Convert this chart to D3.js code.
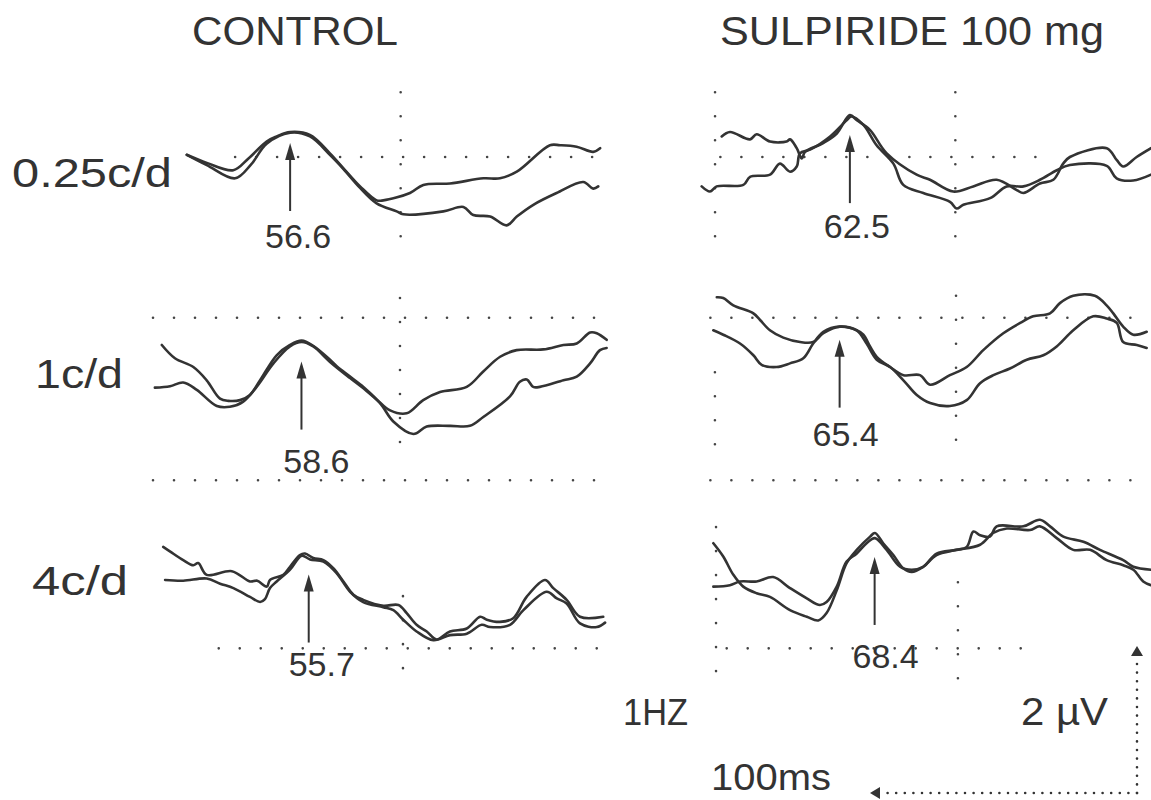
<!DOCTYPE html>
<html>
<head>
<meta charset="utf-8">
<script src="https://cdn.jsdelivr.net/npm/d3@7"></script>
<style>
  body { margin: 0; background: #fff; }
  svg { display: block; font-family: 'Liberation Sans', Arial, sans-serif; }
</style>
</head>
<body>
<svg id="chart" width="1151" height="800"></svg>
<script>
// columns / rows of the figure
const columns = ['CONTROL', 'SULPIRIDE 100 mg']
const rowLabels = ['0.25c/d', '1c/d', '4c/d']
// P100 latency (ms) per row, per column
const latencies = [[56.6, 62.5], [58.6, 65.4], [55.7, 68.4]]

// traces: [time ms, amplitude uV]
const control025A = [[17.9,0.03],[25.4,-0.08],[35.3,-0.18],[41,-0.02],[47.8,0.21],[51.6,0.28],[56.6,0.34],[64,0.30],[71.5,0.05],[76.5,-0.15],[82.8,-0.40],[89,-0.59],[91.5,-0.59],[101.5,-0.49],[106.5,-0.38],[116.5,-0.36],[129,-0.29],[135.2,-0.29],[141.5,-0.20],[153.9,0.16],[157.7,0.16],[163.9,0.14],[170.1,0.07],[172.7,0.12]]
const control025B = [[17.9,0.03],[25.4,-0.11],[36,-0.29],[42,-0.10],[47.8,0.18],[56.6,0.33],[64,0.28],[71.5,0.03],[76.5,-0.16],[82.8,-0.42],[89,-0.63],[96.5,-0.74],[99,-0.78],[114,-0.74],[121.5,-0.68],[125.2,-0.79],[131.5,-0.81],[137.7,-0.93],[141.5,-0.81],[147.7,-0.65],[156.4,-0.49],[166.4,-0.34],[170.1,-0.43],[172,-0.40]]
const sulp025A = [[14.5,0.28],[17.6,0.34],[25.1,0.24],[27.6,0.31],[32.6,0.21],[38.8,0.21],[40.1,0.24],[42.6,0.12],[44.5,-0.02],[45.7,0.07],[52.5,0.19],[57.6,0.32],[62.5,0.57],[65.1,0.50],[70.0,0.37],[76.3,0.05],[87.5,-0.24],[92.5,-0.31],[101.2,-0.47],[108.7,-0.40],[117.5,-0.31],[125.0,-0.45],[127.5,-0.49],[133.7,-0.36],[138.7,-0.31],[142.4,-0.09],[144.9,0.00],[158.7,0.12],[162.4,-0.04],[164.9,-0.13],[169.9,0.00],[175.3,0.12]]
const sulp025B = [[7.0,-0.40],[10.1,-0.47],[12.6,-0.40],[22.6,-0.38],[25.1,-0.27],[32.6,-0.24],[36.3,-0.09],[40.1,-0.20],[42.6,-0.13],[43.8,0.05],[47.6,0.10],[55.1,0.28],[61.3,0.50],[63.0,0.55],[67.5,0.44],[72.5,0.16],[78.8,-0.09],[82.5,-0.38],[90.0,-0.49],[100.0,-0.61],[102.5,-0.70],[105.0,-0.65],[115.0,-0.56],[121.2,-0.40],[127.5,-0.40],[133.7,-0.31],[140.0,-0.18],[144.9,-0.11],[158.7,-0.12],[162.4,-0.29],[168.6,-0.32],[175.3,-0.24]]
const control1A = [[6.3,0],[11.2,-0.18],[18.1,-0.30],[23.1,-0.48],[28.1,-0.73],[31.2,-0.76],[35.6,-0.75],[39.3,-0.68],[43.1,-0.48],[49.3,-0.14],[54.3,0.00],[58.7,0.06],[63.0,-0.01],[69.3,-0.20],[71.8,-0.29],[76.8,-0.43],[81.8,-0.57],[86.8,-0.74],[91.8,-0.89],[98.0,-0.93],[104.2,-0.75],[110.5,-0.64],[120.5,-0.57],[126.7,-0.36],[133.0,-0.16],[139.2,-0.07],[149.2,-0.06],[156.7,0.00],[161.7,0.02],[166.7,0.17],[169.2,0.16],[172.9,0.07]]
const control1B = [[3.7,-0.58],[9.4,-0.56],[14.3,-0.51],[19.4,-0.61],[26.9,-0.83],[31.8,-0.84],[36.8,-0.77],[41.8,-0.57],[48.1,-0.25],[54.3,-0.02],[58.7,0.04],[63.0,-0.02],[69.3,-0.23],[76.8,-0.45],[81.8,-0.59],[88.0,-0.79],[93.0,-1.04],[100.5,-1.21],[105.5,-1.11],[114.2,-1.10],[121.7,-1.10],[126.7,-0.98],[136.7,-0.70],[140.4,-0.50],[143.0,-0.47],[145.4,-0.57],[147.9,-0.57],[156.7,-0.48],[161.7,-0.43],[166.7,-0.25],[170.4,-0.07],[172.9,-0.04]]
const sulp1A = [[19.4,0.65],[21.8,0.64],[25.6,0.54],[33.1,0.43],[35.6,0.34],[39.3,0.20],[44.3,0.10],[50.6,0.04],[55.5,0.04],[59.3,0.16],[65.5,0.25],[71.8,0.20],[74.3,0.14],[76.8,-0.02],[79.3,-0.16],[84.3,-0.30],[89.3,-0.41],[95.5,-0.41],[99.3,-0.54],[106.7,-0.41],[113.0,-0.30],[119.2,-0.07],[126.7,0.16],[133.0,0.30],[137.9,0.39],[144.2,0.43],[147.9,0.57],[152.9,0.67],[161.0,0.67],[165.4,0.54],[167.9,0.43],[171.6,0.25],[175.4,0.14],[180.4,0.18]]
const sulp1B = [[18.1,0.20],[21.8,0.14],[28.1,0.02],[33.1,-0.14],[36.2,-0.27],[41.8,-0.30],[46.8,-0.25],[51.8,-0.18],[55.5,0.02],[59.3,0.18],[65.5,0.25],[71.8,0.20],[75.5,0.02],[79.3,-0.20],[84.3,-0.30],[89.3,-0.48],[94.3,-0.68],[99.3,-0.79],[106.7,-0.83],[113.0,-0.75],[118.0,-0.52],[123.0,-0.41],[129.2,-0.32],[135.5,-0.20],[141.7,-0.14],[146.7,-0.02],[152.9,0.20],[160.4,0.39],[165.4,0.36],[169.2,0.30],[171.6,0.04],[176.7,0.00],[180.4,-0.04]]
const control4A = [[1.2,0.45],[3.7,0.39],[8.7,0.27],[12.5,0.20],[14.3,0.23],[17.5,0.07],[26.9,0.12],[33.7,-0.02],[36.4,-0.01],[40.0,-0.09],[41.2,0.00],[46.2,0.07],[48.7,0.18],[52.4,0.34],[54.3,0.36],[57.4,0.30],[61.2,0.27],[64.9,0.16],[68.7,-0.02],[72.4,-0.20],[76.1,-0.27],[83.6,-0.35],[89.3,-0.34],[92.4,-0.45],[96.1,-0.61],[99.9,-0.70],[103.6,-0.81],[108.6,-0.70],[114.9,-0.66],[119.9,-0.50],[122.4,-0.54],[127.3,-0.57],[132.3,-0.52],[137.3,-0.23],[144.2,0.00],[147.3,-0.11],[152.3,-0.27],[157.3,-0.50],[166.0,-0.50]]
const control4B = [[1.9,0.00],[8.7,-0.01],[17.5,0.02],[22.5,-0.05],[27.5,-0.11],[33.7,-0.23],[37.5,-0.30],[39.3,-0.26],[41.2,-0.11],[43.7,-0.02],[48.7,0.14],[53.1,0.33],[56.2,0.28],[61.2,0.25],[66.2,0.09],[71.2,-0.16],[76.1,-0.30],[83.6,-0.37],[87.4,-0.41],[91.1,-0.54],[96.1,-0.70],[102.4,-0.82],[108.6,-0.75],[114.9,-0.73],[120.5,-0.61],[123.6,-0.64],[131.1,-0.61],[136.1,-0.41],[144.8,-0.16],[148.6,-0.25],[152.3,-0.32],[157.3,-0.59],[163.6,-0.64],[166.7,-0.58]]
const sulp4A = [[8.0,0.50],[11.7,0.32],[15.5,0.07],[19.2,-0.09],[24.2,-0.18],[29.2,-0.23],[36.7,-0.41],[43.0,-0.50],[47.3,-0.55],[50.4,-0.45],[54.2,-0.14],[57.9,0.23],[61.7,0.41],[66.7,0.59],[68.5,0.64],[71.6,0.50],[75.4,0.34],[79.1,0.16],[82.3,0.11],[86.6,0.18],[91.6,0.34],[99.1,0.41],[102.9,0.45],[105.4,0.66],[107.9,0.61],[111.6,0.59],[114.1,0.73],[124.1,0.73],[130.3,0.82],[134.1,0.73],[139.1,0.59],[146.6,0.52],[152.8,0.41],[161.5,0.27],[165.3,0.18],[171.9,0.14]]
const sulp4B = [[8.0,-0.09],[14.2,-0.07],[18.0,-0.02],[24.2,-0.02],[30.4,0.04],[36.7,-0.11],[43.0,-0.25],[47.9,-0.34],[50.4,-0.30],[54.2,-0.09],[57.9,0.25],[61.7,0.36],[65.4,0.50],[68.5,0.57],[72.9,0.41],[77.9,0.18],[82.3,0.14],[86.6,0.18],[91.6,0.36],[99.1,0.41],[107.9,0.48],[112.8,0.64],[117.9,0.70],[126.6,0.68],[130.3,0.73],[136.6,0.57],[142.8,0.41],[149.1,0.41],[155.3,0.27],[161.5,0.20],[165.3,0.14],[169.0,-0.02],[171.9,-0.07]]

const traces = [
    [[control025A, control025B], [sulp025A, sulp025B]],
    [[control1A, control1B], [sulp1A, sulp1B]],
    [[control4A, control4B], [sulp4A, sulp4B]]
]

// dotted reference lines of the printout
// horizontal: [uV, from ms, to ms]   vertical: [ms, from uV, to uV]
const gridH = [
    [[[0, 36, 176]], [[0, 14, 134]]],
    [[[0.37, 3, 170], [-1.84, 3, 170]], [[0.37, 17, 182], [-1.84, 17, 182]]],
    [[[-0.93, 22, 170]], [[-0.93, 13, 130]]]
]
const gridV = [
    [[[98, 0.88, -1.21]], [[102, 0.88, -1.21], [12, 0.88, -1.21]]],
    [[[95.5, 0.64, -1.43]], [[109, 0.67, -1.43], [18.7, -0.37, -1.43]]],
    [[[91, -0.22, -1.44]], [[99.6, -0.03, -1.44], [9, 0.72, -1.41]]]
]

// calibration
const calMs = 100
const calUv = 2

// ---- layout
const pxPer100ms = 267
const pxPer2uV = 147
const panelX = [[139, 683], [145, 665], [160, 692]]
const rowBase = [157, 345, 580]
const arrowGap = [[11, 20], [21, 13], [21, 24]]
const labelDx = [[8, 7], [15, 6], [13, 11]]
const labelDy = [[37, 35], [43, 38], [33, 43]]

const ink = '#333'
const svg = d3.select('#chart')
svg.append('rect').attr('width', 1151).attr('height', 800).attr('fill', '#fff')

const fmt = d3.format('.1f')

rowLabels.forEach(function (label, r) {
    columns.forEach(function (_, c) {
        const x = d3.scaleLinear().domain([0, 100]).range([panelX[r][c], panelX[r][c] + pxPer100ms])
        const y = d3.scaleLinear().domain([0, 2]).range([rowBase[r], rowBase[r] - pxPer2uV])
        const g = svg.append('g').attr('class', 'panel')

        // dotted grid
        gridH[r][c].forEach(function (d) {
            g.append('line')
                .attr('x1', x(d[1])).attr('x2', x(d[2]))
                .attr('y1', y(d[0])).attr('y2', y(d[0]))
                .attr('stroke', '#444').attr('stroke-width', 2.6)
                .attr('stroke-linecap', 'round').attr('stroke-dasharray', '0 21')
        })
        gridV[r][c].forEach(function (d) {
            g.append('line')
                .attr('x1', x(d[0])).attr('x2', x(d[0]))
                .attr('y1', y(d[1])).attr('y2', y(d[2]))
                .attr('stroke', '#444').attr('stroke-width', 2.6)
                .attr('stroke-linecap', 'round').attr('stroke-dasharray', '0 24')
        })

        // two superimposed traces
        const line = d3.line()
            .x(d => x(d[0]))
            .y(d => y(d[1]))
            .curve(d3.curveCatmullRom.alpha(0.5))
        g.selectAll('path.trace')
            .data(traces[r][c])
            .join('path')
            .attr('class', 'trace')
            .attr('d', line)
            .attr('fill', 'none')
            .attr('stroke', '#333')
            .attr('stroke-width', 2.6)
            .attr('stroke-linejoin', 'round')
            .attr('stroke-linecap', 'round')

        // latency arrow
        const lat = latencies[r][c]
        const near = d3.merge(traces[r][c]).filter(d => Math.abs(d[0] - lat) <= 4)
        const tip = y(d3.max(near, d => d[1])) + arrowGap[r][c]
        const ax = x(lat)
        g.append('line')
            .attr('x1', ax).attr('x2', ax)
            .attr('y1', tip + 12).attr('y2', tip + 68)
            .attr('stroke', ink).attr('stroke-width', 2)
        g.append('path')
            .attr('d', `M${ax},${tip} L${ax - 5},${tip + 17} L${ax + 5},${tip + 17} Z`)
            .attr('fill', ink)
        g.append('text')
            .attr('x', ax + labelDx[r][c])
            .attr('y', tip + 68 + labelDy[r][c])
            .attr('text-anchor', 'middle')
            .attr('font-size', 34)
            .attr('fill', ink)
            .text(fmt(lat))
    })
})

// titles and row labels
const titlePos = [[192, 45, 206], [720, 45, 384]]
svg.selectAll('text.col')
    .data(columns)
    .join('text')
    .attr('class', 'col')
    .attr('x', (d, i) => titlePos[i][0])
    .attr('y', (d, i) => titlePos[i][1])
    .attr('textLength', (d, i) => titlePos[i][2])
    .attr('lengthAdjust', 'spacingAndGlyphs')
    .attr('font-size', 41)
    .attr('fill', ink)
    .text(d => d)

const rowPos = [[12, 187, 160], [35, 388, 88], [32, 595, 96]]
svg.selectAll('text.row')
    .data(rowLabels)
    .join('text')
    .attr('class', 'row')
    .attr('x', (d, i) => rowPos[i][0])
    .attr('y', (d, i) => rowPos[i][1])
    .attr('textLength', (d, i) => rowPos[i][2])
    .attr('lengthAdjust', 'spacingAndGlyphs')
    .attr('font-size', 40)
    .attr('fill', ink)
    .text(d => d)

// calibration bars
const calX = d3.scaleLinear().domain([0, calMs]).range([1137 - pxPer100ms, 1137])
const calY = d3.scaleLinear().domain([0, calUv]).range([793, 793 - pxPer2uV])
const cal = svg.append('g').attr('class', 'calibration')
cal.append('line')
    .attr('x1', calX(calMs)).attr('x2', calX(calMs))
    .attr('y1', calY(0)).attr('y2', calY(calUv) + 10)
    .attr('stroke', ink).attr('stroke-width', 2.6)
    .attr('stroke-linecap', 'round').attr('stroke-dasharray', '0 8.6')
cal.append('path')
    .attr('d', `M${calX(calMs)},${calY(calUv)} l-6,10 l12,0 Z`)
    .attr('fill', ink)
cal.append('line')
    .attr('x1', calX(calMs)).attr('x2', calX(0) + 10)
    .attr('y1', calY(0)).attr('y2', calY(0))
    .attr('stroke', ink).attr('stroke-width', 2.6)
    .attr('stroke-linecap', 'round').attr('stroke-dasharray', '0 8.6')
cal.append('path')
    .attr('d', `M${calX(0)},${calY(0)} l10,-6 l0,12 Z`)
    .attr('fill', ink)

const notes = [['1HZ', 623, 725, 65, 36], ['2 \u00b5V', 1021, 725, 87, 38], ['100ms', 711, 790, 120, 36]]
svg.selectAll('text.note')
    .data(notes)
    .join('text')
    .attr('class', 'note')
    .attr('x', d => d[1])
    .attr('y', d => d[2])
    .attr('textLength', d => d[3])
    .attr('lengthAdjust', 'spacingAndGlyphs')
    .attr('font-size', d => d[4])
    .attr('fill', ink)
    .text(d => d[0])
</script>
</body>
</html>
